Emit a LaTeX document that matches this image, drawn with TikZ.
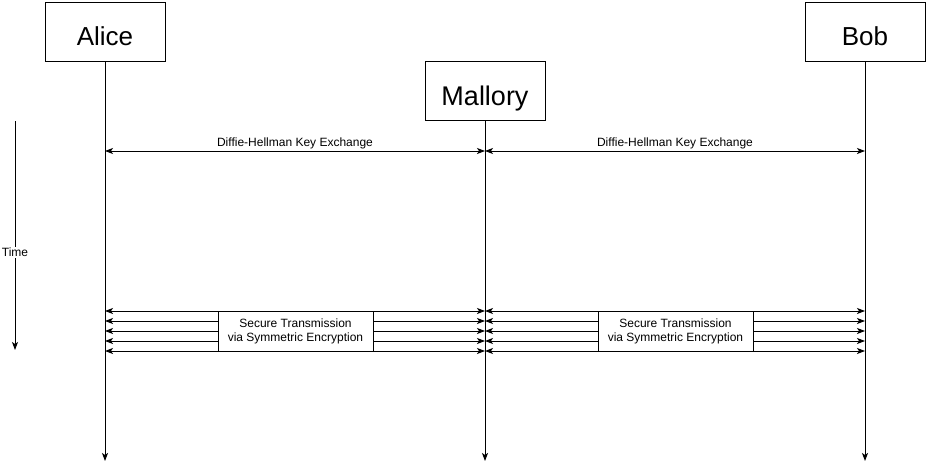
\documentclass[tikz,border=0pt]{standalone}
\usepackage{fontspec}
\setmainfont{Liberation Sans}
\usetikzlibrary{arrows.meta}
\tikzset{
  actor/.style={draw,fill=white,minimum width=120pt,minimum height=59pt,inner sep=0pt,text height=28pt,text depth=0pt},
  msg/.style={font=\fontsize{12}{14}\selectfont},
  cryptbox/.style={draw,fill=white,minimum width=155pt,minimum height=40pt,inner sep=0pt,align=center,font=\fontsize{12}{14}\selectfont}
}
\begin{document}
\begin{tikzpicture}[x=1pt,y=-1pt,line width=1pt,>={Stealth[length=8pt,width=6pt,inset=2pt]}]
\useasboundingbox (0,0) rectangle (927,471);
\pgfmathsetmacro{\ydh}{151}
\pgfmathsetmacro{\yend}{461}
\node[actor,font=\fontsize{26}{26}\selectfont] (alice) at (105,31.5) {Alice};
\node[actor,font=\fontsize{27}{27}\selectfont] (mallory) at (485,91) {Mallory};
\node[actor,font=\fontsize{26}{26}\selectfont] (bob) at (865,31.5) {Bob};
% lifelines
\foreach \p in {alice,mallory,bob}{
  \coordinate (\p-end) at (\p.south |- 0,\yend);
  \coordinate (\p-dh) at (\p.south |- 0,\ydh);
  \draw[->] (\p.south) -- (\p-end);
}
% key exchange
\draw[<->] (alice-dh) -- node[above,msg,inner sep=2pt] (dhl) {Diffie-Hellman Key Exchange} (mallory-dh);
\draw[<->] (mallory-dh) -- node[above,msg,inner sep=2pt] (dhr) {Diffie-Hellman Key Exchange} (bob-dh);
% symmetric traffic
\foreach \k in {0,...,4}{
  \coordinate (a\k) at (alice.south |- 0,311+10*\k);
  \coordinate (m\k) at (mallory.south |- 0,311+10*\k);
  \coordinate (b\k) at (bob.south |- 0,311+10*\k);
  \draw[<->] (a\k) -- (m\k);
  \draw[<->] (m\k) -- (b\k);
}
\node[cryptbox] (encl) at (295.5,331) {Secure Transmission\\via Symmetric Encryption};
\node[cryptbox] (encr) at (675.5,331) {Secure Transmission\\via Symmetric Encryption};
% time axis
\coordinate (t0) at (15,121);
\coordinate (t1) at (15,350);
\draw[->] (t0) -- node[pos=0.575,fill=white,msg,inner sep=1pt] (time) {Time} (t1);
\end{tikzpicture}
\end{document}
